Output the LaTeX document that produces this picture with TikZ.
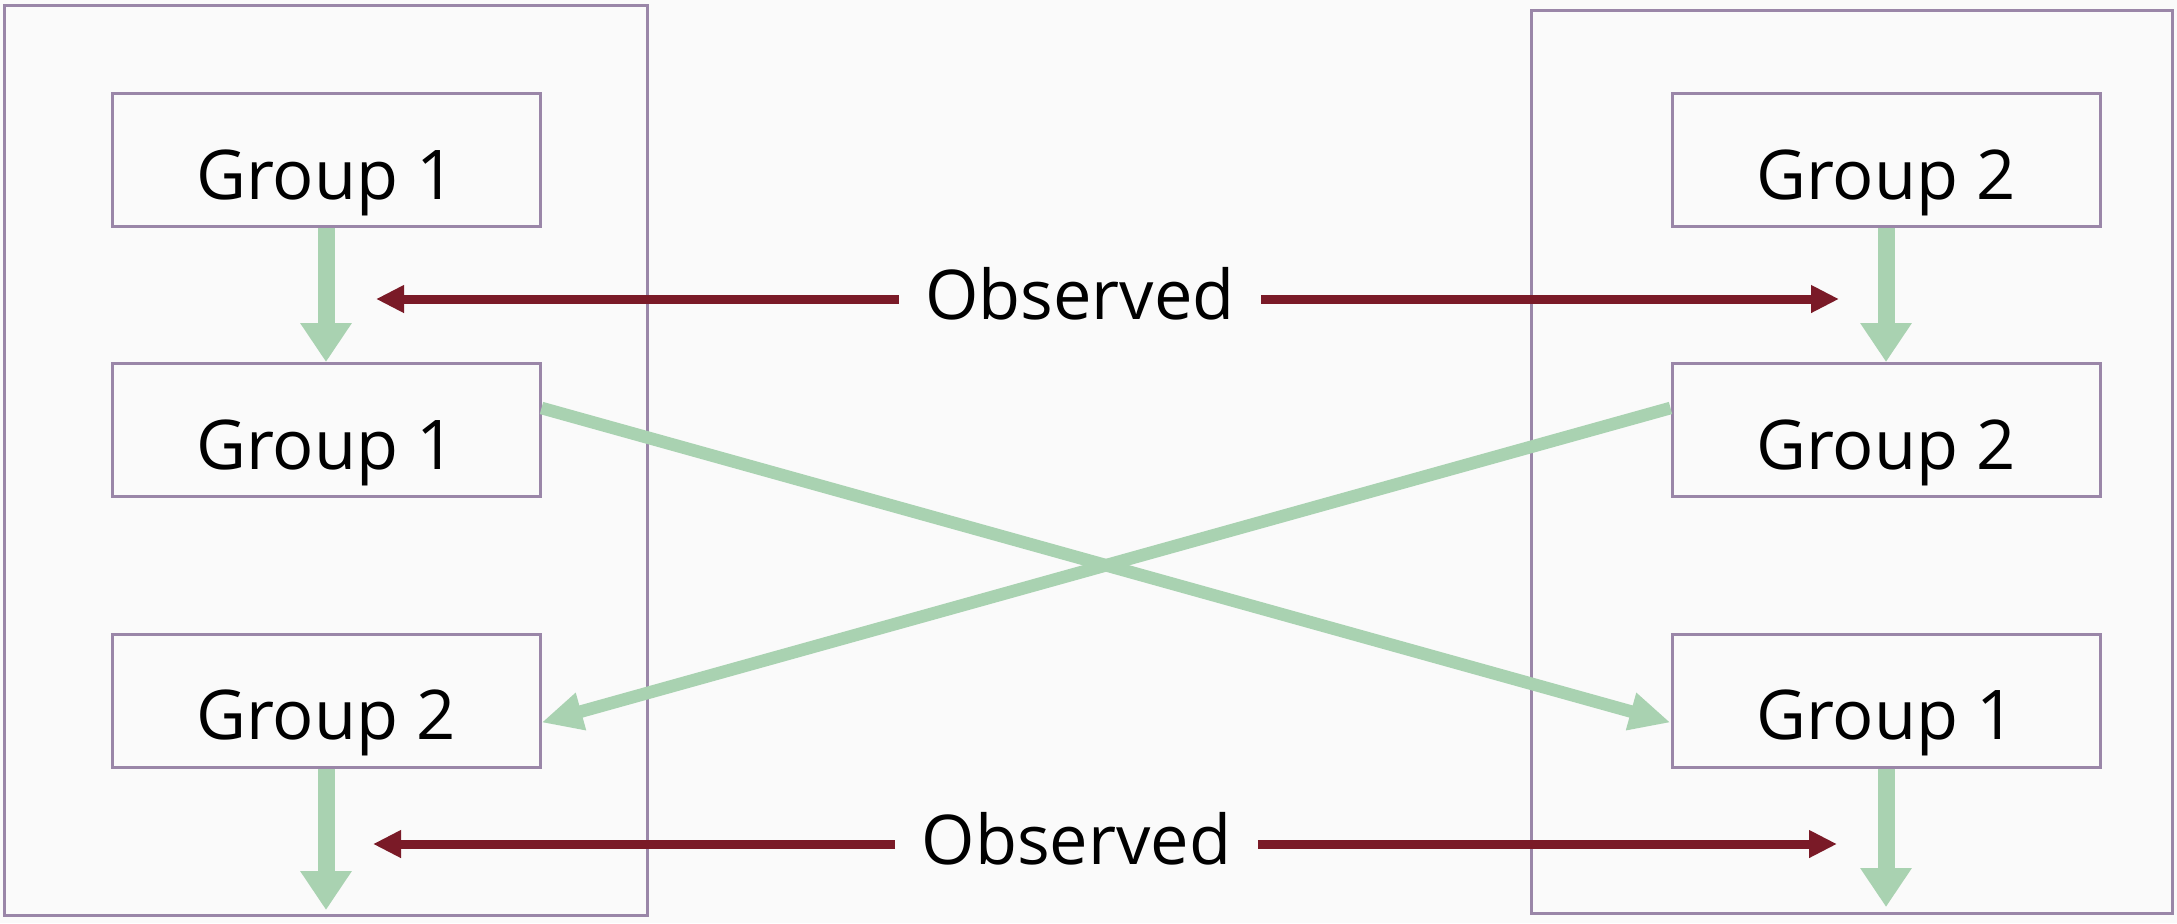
\documentclass[tikz,border=0pt]{standalone}
\usepackage{fontspec}
\setmainfont{Open Sans}
\usetikzlibrary{arrows.meta,calc}
\definecolor{bg}{HTML}{FAFAFA}
\definecolor{frame}{HTML}{9A86A8}
\definecolor{grn}{HTML}{A9D2B1}
\definecolor{obsred}{HTML}{7A1A27}
\newcommand{\gfont}{\fontsize{34.3}{41}\selectfont}
\begin{document}
\begin{tikzpicture}[x=0.5pt,y=-0.5pt,
  outerframe/.style={draw=frame,line width=1.5pt},
  box/.style={draw=frame,line width=1.5pt,fill=bg,minimum width=214pt,minimum height=66.5pt,
    inner sep=0pt,text height=39pt,text depth=0pt,font=\gfont},
  obs/.style={inner sep=0pt,text height=20pt,text depth=0pt,font=\gfont,minimum width=181pt},
  garrow/.style={draw=grn,line width=8.5pt,-{Triangle[length=19.5pt,width=24.5pt]}},
  gdiag/.style={draw=grn,line width=6.3pt,-{Triangle[length=20.5pt,width=18pt]}},
  rarrow/.style={draw=obsred,line width=4.5pt,-{Triangle[length=14pt,width=13pt]}}]
\fill[bg] (0,0) rectangle (2177,923);
\useasboundingbox (0,0) rectangle (2177,923);
% outer frames
\draw[outerframe] (4.5,5) rectangle (647,915);
\draw[outerframe] (1531,10) rectangle (2172,913);
% boxes
\node[box] (L1) at (326,160) {Group 1};
\node[box] (L2) at (326,430) {Group 1};
\node[box] (L3) at (326,700.5) {Group 2};
\node[box] (R1) at (1886,160) {Group 2};
\node[box] (R2) at (1886,430) {Group 2};
\node[box] (R3) at (1886,700.5) {Group 1};
% free ends
\coordinate (endL) at (326,910);
\coordinate (endR) at (1886,907);
% observed labels
\node[obs] (O1) at (1080,299) {Observed};
\node[obs] (O2) at (1076.5,844) {Observed};
\coordinate (t1L) at (376,299);
\coordinate (t1R) at (1839,299);
\coordinate (t2L) at (373,844);
\coordinate (t2R) at (1837,844);
% green vertical arrows
\draw[garrow] (L1.south) -- (L2.north);
\draw[garrow] (R1.south) -- (R2.north);
\draw[garrow] (L3.south) -- (endL);
\draw[garrow] (R3.south) -- (endR);
% diagonals
\draw[gdiag] ($(L2.east)+(0,-22)$) -- ($(R3.west)+(0,22)$);
\draw[gdiag] ($(R2.west)+(0,-22)$) -- ($(L3.east)+(0,22)$);
% red arrows
\draw[rarrow] (O1.west) -- (t1L);
\draw[rarrow] (O1.east) -- (t1R);
\draw[rarrow] (O2.west) -- (t2L);
\draw[rarrow] (O2.east) -- (t2R);
\end{tikzpicture}
\end{document}
